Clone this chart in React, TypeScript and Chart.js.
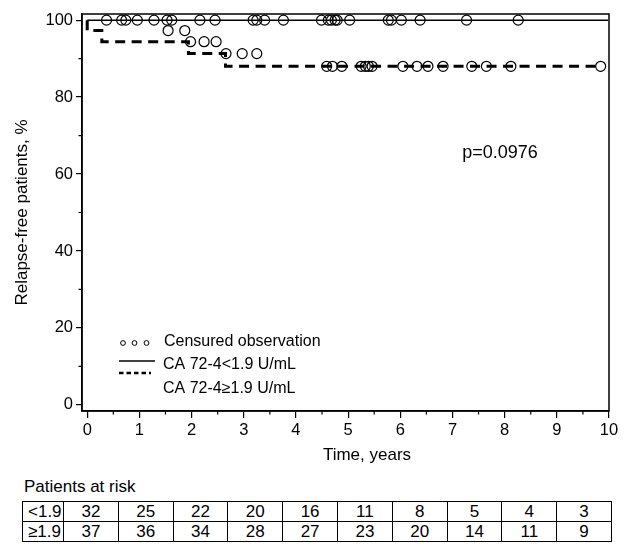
import React, { useEffect, useRef } from "react";
import { Chart, registerables } from "chart.js";

Chart.register(...registerables);

// ---------- data ----------
const xTicks = [0, 1, 2, 3, 4, 5, 6, 7, 8, 9, 10];
const yTicks = [0, 20, 40, 60, 80, 100];

// CA 72-4 < 1.9 U/mL (no events)
const lowTimes = [0, 9.98];
const lowSurv = [100, 100];
const lowCensTimes = [
  0.37, 0.66, 0.74, 0.96, 1.28, 1.53, 1.62, 2.16, 2.45, 3.18, 3.25, 3.4, 3.76,
  4.49, 4.62, 4.68, 4.75, 4.79, 5.03, 5.77, 5.83, 6.02, 6.38, 7.27, 8.26,
];
const lowCensSurv = [
  100, 100, 100, 100, 100, 100, 100, 100, 100, 100, 100, 100, 100, 100, 100,
  100, 100, 100, 100, 100, 100, 100, 100, 100, 100,
];

// CA 72-4 >= 1.9 U/mL
const highTimes = [0, 0.28, 1.94, 2.65, 4.52, 9.84];
const highSurv = [100, 97.3, 94.4, 91.3, 88.0, 88.0];
const highCensTimes = [
  1.55, 1.87, 1.98, 2.24, 2.47, 2.66, 2.97, 3.25, 4.59, 4.7, 4.88, 5.25, 5.33,
  5.39, 5.46, 6.05, 6.32, 6.53, 6.82, 7.37, 7.65, 8.12, 9.84,
];
const highCensSurv = [
  97.3, 97.3, 94.4, 94.4, 94.4, 91.3, 91.3, 91.3, 88.0, 88.0, 88.0, 88.0, 88.0,
  88.0, 88.0, 88.0, 88.0, 88.0, 88.0, 88.0, 88.0, 88.0, 88.0,
];

const riskGroups = ["<1.9", "\u22651.9"];
const riskLow = [32, 25, 22, 20, 16, 11, 8, 5, 4, 3];
const riskHigh = [37, 36, 34, 28, 27, 23, 20, 14, 11, 9];

const pValueText = "p=0.0976";
const legendLabels = ["Censured observation", "CA 72-4<1.9 U/mL", "CA 72-4\u22651.9 U/mL"];
const xTitle = "Time, years";
const yTitle = "Relapse-free patients, %";

const FONT = '"Liberation Sans", Arial, Helvetica, sans-serif';

const toPts = (xs: number[], ys: number[]) => xs.map((x, i) => ({ x, y: ys[i] }));

const decorPlugin = {
  id: "decor",
  afterDraw(chart: any) {
    const { ctx, chartArea, scales } = chart;
    const { left, right, top, bottom } = chartArea;
    ctx.save();
    // frame
    ctx.strokeStyle = "#000";
    ctx.lineWidth = 1.5;
    ctx.strokeRect(left, top, right - left, bottom - top);
    // minor ticks
    ctx.lineWidth = 1.2;
    ctx.beginPath();
    for (let i = 0; i < xTicks.length - 1; i++) {
      const px = scales.x.getPixelForValue((xTicks[i] + xTicks[i + 1]) / 2);
      ctx.moveTo(px, bottom);
      ctx.lineTo(px, bottom + 3.5);
    }
    for (let i = 0; i < yTicks.length - 1; i++) {
      const py = scales.y.getPixelForValue((yTicks[i] + yTicks[i + 1]) / 2);
      ctx.moveTo(left, py);
      ctx.lineTo(left - 3.5, py);
    }
    ctx.stroke();

    ctx.fillStyle = "#000";
    // axis titles
    ctx.font = `17px ${FONT}`;
    ctx.textAlign = "center";
    ctx.textBaseline = "middle";
    ctx.fillText(xTitle, 367, 455);
    ctx.save();
    ctx.translate(22, (top + bottom) / 2);
    ctx.rotate(-Math.PI / 2);
    ctx.fillText(yTitle, 0, 0);
    ctx.restore();

    // p value
    ctx.font = `18px ${FONT}`;
    ctx.fillText(pValueText, 500, 153);

    // legend
    ctx.font = `16px ${FONT}`;
    ctx.textAlign = "left";
    ctx.lineWidth = 1;
    [123, 134.5, 146.5].forEach((cx) => {
      ctx.beginPath();
      ctx.arc(cx, 343, 2.4, 0, Math.PI * 2);
      ctx.stroke();
    });
    ctx.fillText(legendLabels[0], 164, 342);
    ctx.lineWidth = 1.5;
    ctx.beginPath();
    ctx.moveTo(119, 361);
    ctx.lineTo(155, 361);
    ctx.stroke();
    ctx.fillText(legendLabels[1], 163, 365);
    ctx.lineWidth = 2.5;
    ctx.setLineDash([4.5, 3]);
    ctx.beginPath();
    ctx.moveTo(119, 373);
    ctx.lineTo(151, 373);
    ctx.stroke();
    ctx.setLineDash([]);
    ctx.fillText(legendLabels[2], 163, 389);
    ctx.restore();
  },
};

function KMChart() {
  const ref = useRef<HTMLCanvasElement | null>(null);
  useEffect(() => {
    if (!ref.current) return;
    const tickFont = { family: FONT, size: 16.5 };
    const chart = new Chart(ref.current, {
      type: "line",
      data: {
        datasets: [
          {
            data: toPts(lowTimes, lowSurv),
            borderColor: "#000",
            borderWidth: 1.5,
            pointRadius: 0,
            stepped: "after",
          },
          {
            data: toPts(highTimes, highSurv),
            borderColor: "#000",
            borderWidth: 3,
            borderDash: [10, 6.5],
            pointRadius: 0,
            stepped: "after",
          },
          {
            data: toPts(lowCensTimes, lowCensSurv),
            showLine: false,
            pointStyle: "circle",
            pointRadius: 5,
            pointBorderWidth: 1.2,
            pointBorderColor: "#000",
            pointBackgroundColor: "rgba(0,0,0,0)",
          },
          {
            data: toPts(highCensTimes, highCensSurv),
            showLine: false,
            pointStyle: "circle",
            pointRadius: 5,
            pointBorderWidth: 1.2,
            pointBorderColor: "#000",
            pointBackgroundColor: "rgba(0,0,0,0)",
          },
        ],
      } as any,
      options: {
        responsive: false,
        animation: false,
        layout: { padding: { top: 14, right: 17, left: 0, bottom: 0 } },
        plugins: { legend: { display: false }, tooltip: { enabled: false } },
        scales: {
          x: {
            type: "linear",
            min: -0.1,
            max: 10,
            afterBuildTicks: (s: any) => {
              s.ticks = xTicks.map((v) => ({ value: v }));
            },
            afterFit: (s: any) => {
              s.height = 59;
            },
            ticks: { font: tickFont, color: "#000", padding: 3, maxRotation: 0, autoSkip: false },
            grid: {
              display: true,
              drawOnChartArea: false,
              drawTicks: true,
              tickLength: 7,
              color: "#000",
              lineWidth: 1.2,
            },
            border: { display: true, color: "#000", width: 1.5 },
          },
          y: {
            type: "linear",
            min: -1.6,
            max: 101.6,
            afterBuildTicks: (s: any) => {
              s.ticks = yTicks.map((v) => ({ value: v }));
            },
            afterFit: (s: any) => {
              s.width = 82;
            },
            ticks: { font: tickFont, color: "#000", padding: 3, autoSkip: false },
            grid: {
              display: true,
              drawOnChartArea: false,
              drawTicks: true,
              tickLength: 6,
              color: "#000",
              lineWidth: 1.2,
            },
            border: { display: true, color: "#000", width: 1.5 },
          },
        },
      } as any,
      plugins: [decorPlugin],
    });
    return () => chart.destroy();
  }, []);
  return (
    <canvas
      ref={ref}
      width={626}
      height={470}
      style={{ position: "absolute", left: 0, top: 0, width: 626, height: 470 }}
    />
  );
}

export default function App() {
  const cell: React.CSSProperties = {
    border: "1.5px solid #000",
    padding: 0,
    height: 19,
    lineHeight: "19px",
    textAlign: "center",
  };
  const labelCell: React.CSSProperties = { ...cell, textAlign: "left", paddingLeft: 5 };
  const rows = [riskLow, riskHigh];
  return (
    <div
      style={{
        position: "fixed",
        left: 0,
        top: 0,
        width: 626,
        height: 552,
        background: "#fff",
        fontFamily: FONT,
        color: "#000",
      }}
    >
      <KMChart />
      <div style={{ position: "absolute", left: 24, top: 477, fontSize: 17, lineHeight: "20px" }}>
        Patients at risk
      </div>
      <table
        style={{
          position: "absolute",
          left: 22,
          top: 501,
          width: 590,
          borderCollapse: "collapse",
          tableLayout: "fixed",
          fontSize: 17,
        }}
      >
        <colgroup>
          <col style={{ width: 41 }} />
          {riskLow.map((_, i) => (
            <col key={i} />
          ))}
        </colgroup>
        <tbody>
          {rows.map((r, ri) => (
            <tr key={ri}>
              <td style={labelCell}>{riskGroups[ri]}</td>
              {r.map((v, i) => (
                <td key={i} style={cell}>
                  {v}
                </td>
              ))}
            </tr>
          ))}
        </tbody>
      </table>
    </div>
  );
}
